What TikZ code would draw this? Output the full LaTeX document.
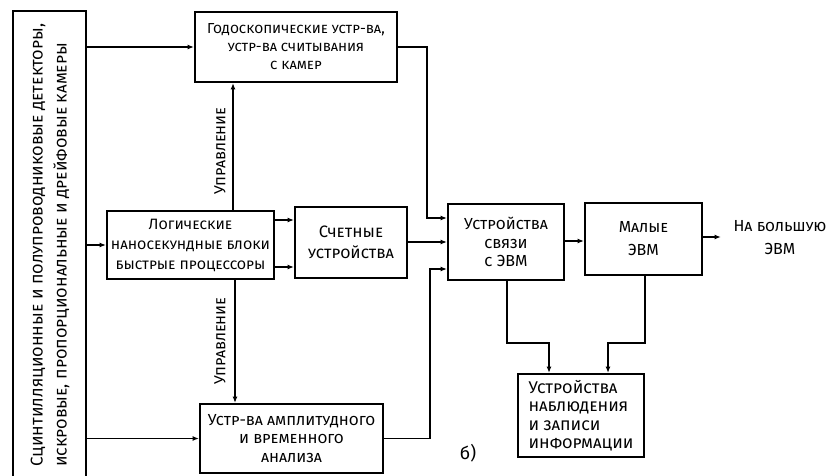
\documentclass[tikz,border=0pt]{standalone}
\usepackage{fontspec}
\setmainfont{Fira Sans}
\usetikzlibrary{arrows.meta,calc}
\newcommand\fsz[2]{\fontsize{#1}{#2}\selectfont\scshape}
\begin{document}
\begin{tikzpicture}[x=1pt,y=-1pt,
  box/.style={draw, line width=1.9pt, inner sep=2pt, align=center},
  conn/.style={line width=1.3pt},
  arr/.style={conn,-{Latex[length=6.5pt,width=5pt]}},
  lbl/.style={font=\fsz{16}{18}, inner sep=0pt}
]
\useasboundingbox[fill=white] (0,0) rectangle (835,476);

% left tall box
\node[minimum width=73pt, minimum height=465pt, inner sep=0pt] (L) at (49.5,243.5) {};
\draw[line width=1.9pt] (L.south west) -- (L.north west) -- (L.north east) -- (L.south east);
\node[rotate=90, anchor=west, align=left, font=\fsz{17}{24}, inner sep=0pt] (LT) at (50,467)
  {Сцинтилляционные и полупроводниковые детекторы,\\искровые, пропорциональные и дрейфовые камеры};

% boxes
\node[box, font=\fsz{14.5}{18}, minimum width=202pt, minimum height=70pt] (G) at (296,47)
  {Годоскопические устр-ва,\\устр-ва считывания\\с камер};
\node[box, font=\fsz{15}{20}, minimum width=167pt, minimum height=68pt] (Log) at (190.5,245)
  {Логические\\наносекундные блоки\\быстрые процессоры};
\node[box, font=\fsz{16.5}{21}, minimum width=112pt, minimum height=71pt] (Cnt) at (351,242.5)
  {Счетные\\устройства};
\node[box, font=\fsz{16}{18.5}, minimum width=183pt, minimum height=69pt] (Amp) at (291.5,438.5)
  {Устр-ва амплитудного\\и временного\\анализа};
\node[box, font=\fsz{16}{18.5}, minimum width=116pt, minimum height=76pt] (Com) at (506,242)
  {Устройства\\связи\\с ЭВМ};
\node[box, font=\fsz{16}{23}, minimum width=117pt, minimum height=72pt] (Mal) at (643.5,239)
  {Малые\\ЭВМ};
\node[box, font=\fsz{17}{18.5}, minimum width=126pt, minimum height=83pt, align=left] (Obs) at (581,415.5)
  {Устройства\\наблюдения\\ и записи\\информации};

% free texts
\node[font=\fsz{16}{23}, align=center, inner sep=0pt] (out) at (780,238) {На большую\\ЭВМ};
\node[lbl, rotate=90] (u1) at (220,151) {Управление};
\node[lbl, rotate=90] (u2) at (220,341) {Управление};
\node[font=\fontsize{18}{18}\selectfont, inner sep=0pt] (sub) at (468,453) {б)};

% helper coordinates
\coordinate (y220) at (0,220);
\coordinate (y267) at (0,267);
\coordinate (y241) at (0,241);
\coordinate (tip) at (721,237);
\coordinate (k1) at (427,218);
\coordinate (k2) at (430,269);
\coordinate (xu) at (233,0);
\coordinate (xd) at (235,0);
\coordinate (b1) at (507,343);
\coordinate (b2) at (549,0);
\coordinate (b3) at (645,343);
\coordinate (b4) at (608,0);

% connectors
\draw[arr] (L.east |- G.west) -- (G.west);
\draw[arr] (L.east |- Log.west) -- (Log.west);
\draw[arr] (L.east |- Amp.west) -- (Amp.west);
\draw[arr] (G.east) -| (k1) -- (Com.west |- k1);
\draw[arr] (Log.east |- y220) -- (Cnt.west |- y220);
\draw[arr] (Log.east |- y267) -- (Cnt.west |- y267);
\draw[arr] (Log.north -| xu) -- (G.south -| xu);
\draw[arr] (Log.south -| xd) -- (Amp.north -| xd);
\draw[arr] (Cnt.east |- Com.west) -- (Com.west);
\draw[arr] (Amp.east) -| (k2) -- (Com.west |- k2);
\draw[arr] (Com.east |- y241) -- (Mal.west |- y241);
\draw[arr] (Mal.east |- tip) -- (tip);
\draw[arr] (Com.south -| b1) -- (b1) -| (Obs.north -| b2);
\draw[arr] (Mal.south -| b3) -- (b3) -| (Obs.north -| b4);
\end{tikzpicture}
\end{document}
